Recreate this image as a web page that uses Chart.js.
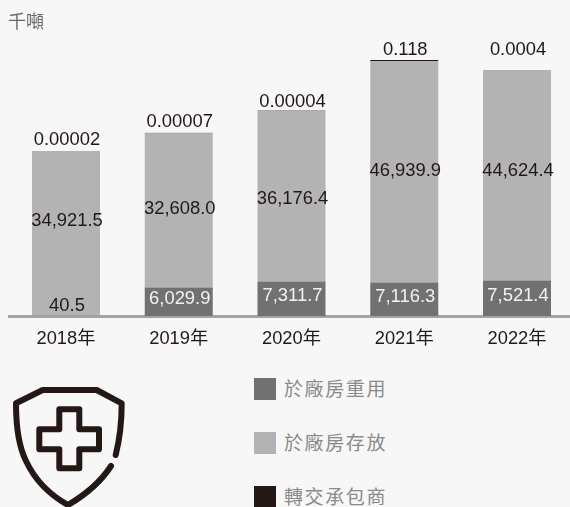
<!DOCTYPE html>
<html lang="zh-Hant">
<head>
<meta charset="utf-8">
<style>
html,body{margin:0;padding:0;width:570px;height:507px;overflow:hidden;background:#f7f7f7}
#wrap{position:relative;width:570px;height:507px;overflow:hidden}
canvas{position:absolute;left:0;top:0}
.t{position:absolute;font-family:"Noto Sans CJK TC","Noto Sans CJK SC",sans-serif;white-space:nowrap}
#unit{left:8px;top:8px;font-size:18px;line-height:24px;color:#6a6a6a}
.sw{position:absolute;left:254px;width:22px;height:22px}
.lg{left:284px;font-size:19px;line-height:24px;letter-spacing:1.6px;color:#8a8a8a}
svg{position:absolute;left:0;top:370px}
</style>
</head>
<body>
<div id="wrap">
<canvas id="c" width="580" height="360" style="width:580px;height:360px"></canvas>
<div class="t" id="unit">千噸</div>
<div class="sw" style="top:378px;background:#717171"></div><div class="t lg" style="top:376px">於廠房重用</div>
<div class="sw" style="top:432px;background:#b3b3b3"></div><div class="t lg" style="top:430px">於廠房存放</div>
<div class="sw" style="top:486px;background:#231815"></div><div class="t lg" style="top:484px">轉交承包商</div>
<svg width="140" height="137" viewBox="0 370 140 137" fill="none" stroke="#231815" stroke-width="6" stroke-linecap="round" stroke-linejoin="round">
<path d="M115.7 455 C120 438 121.7 420 121.7 403.3 L96.7 390 L42.7 390 L16 403.3 C16 425 18 445 26 461 C35 480 50 495 68 505 C85 495 100 483 111 466"/>
<path d="M59.3 409.3 H79.3 V429.3 H99 V449.3 H79.3 V468.3 H59.3 V449.3 H39.3 V429.3 H59.3 Z"/>
</svg>
</div>
<script src="https://cdn.jsdelivr.net/npm/chart.js@4"></script>
<script>
const years = ['2018年','2019年','2020年','2021年','2022年'];
const reused = [40.5, 6029.9, 7311.7, 7116.3, 7521.4];
const stored = [34921.5, 32608.0, 36176.4, 46939.9, 44624.4];
const transferred = [0.00002, 0.00007, 0.00004, 0.118, 0.0004];
const reusedLabels = ['40.5','6,029.9','7,311.7','7,116.3','7,521.4'];
const storedLabels = ['34,921.5','32,608.0','36,176.4','46,939.9','44,624.4'];
const transferredLabels = ['0.00002','0.00007','0.00004','0.118','0.0004'];
const transferEdgeColors = ['rgba(0,0,0,0)','#8f8f8f','#a8a8a8','#231815','rgba(0,0,0,0)'];
const storedNudge = [-13, -2, 3, -1, -4];
const reusedNudge = [-10, -3, -3, -2, -2];
const topNudge = [-10, -11, -8, -10, -19];

const labelPlugin = {
  id: 'labels',
  afterDatasetsDraw(chart) {
    const ctx = chart.ctx, x = chart.scales.x;
    ctx.save();
    ctx.font = '18.4px "Liberation Sans"';
    ctx.textAlign = 'center';
    ctx.textBaseline = 'middle';
    const m0 = chart.getDatasetMeta(0).data, m1 = chart.getDatasetMeta(1).data, m2 = chart.getDatasetMeta(2).data;
    years.forEach((_, i) => {
      const cx = x.getPixelForValue(i) + 1;
      ctx.fillStyle = i === 0 ? '#231815' : '#f2f2f2';
      ctx.fillText(reusedLabels[i], cx, (m0[i].y + m0[i].base) / 2 + reusedNudge[i]);
      ctx.fillStyle = '#231815';
      ctx.fillText(storedLabels[i], cx, (m1[i].y + m1[i].base) / 2 + storedNudge[i]);
      ctx.fillText(transferredLabels[i], cx, m2[i].y + topNudge[i]);
    });
    ctx.restore();
  }
};

new Chart(document.getElementById('c'), {
  type: 'bar',
  data: {
    labels: years,
    datasets: [
      {label:'於廠房重用', data: reused, backgroundColor:'#717171'},
      {label:'於廠房存放', data: stored, backgroundColor:'#b3b3b3'},
      {label:'轉交承包商', data: transferred, backgroundColor: transferEdgeColors, minBarLength: 1}
    ]
  },
  options: {
    responsive: false,
    animation: false,
    barPercentage: 0.603,
    categoryPercentage: 1,
    layout: {padding: {left: 9.6, right: 6.6, top: 33, bottom: 0}},
    plugins: {legend: {display: false}, tooltip: {enabled: false}},
    scales: {
      x: {
        stacked: true,
        afterFit(s) { s.height = 44; },
        grid: {display: false},
        border: {display: true, color: '#a3a3a3', width: 3},
        ticks: {color: '#231815', padding: 4, font: {family: '"Liberation Sans","Noto Sans CJK TC"', size: 18.3}, maxRotation: 0}
      },
      y: {stacked: true, display: false, min: 0, max: 60000}
    }
  },
  plugins: [labelPlugin]
});
</script>
</body>
</html>
